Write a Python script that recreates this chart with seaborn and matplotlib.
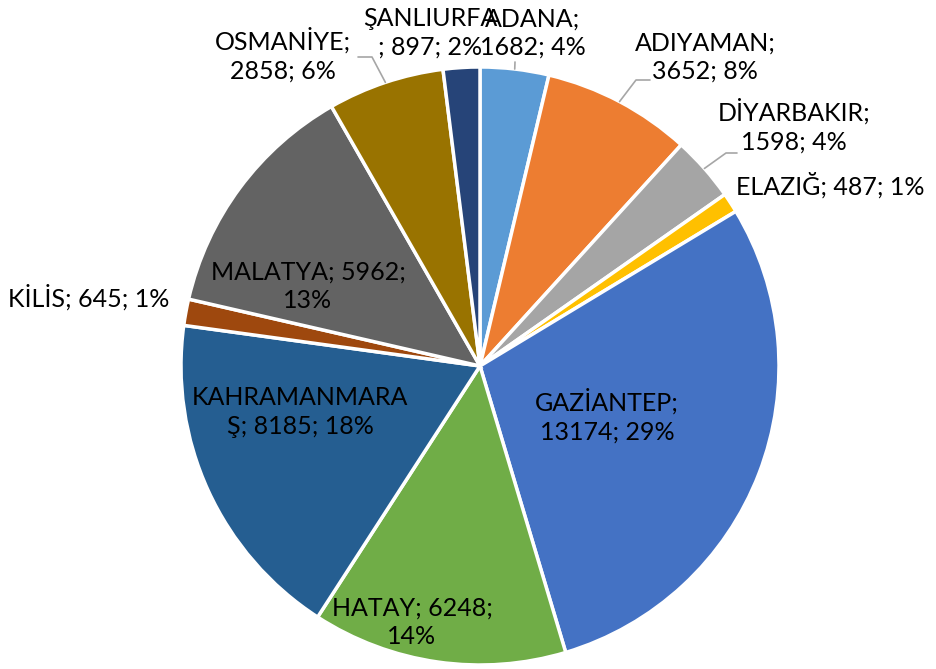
import matplotlib.pyplot as plt
import seaborn as sns
import numpy as np

# data, clockwise from the top
cities = ["ADANA", "ADIYAMAN", "DİYARBAKIR", "ELAZIĞ", "GAZİANTEP", "HATAY",
          "KAHRAMANMARAŞ", "KİLİS", "MALATYA", "OSMANİYE", "ŞANLIURFA"]
counts = [1682, 3652, 1598, 487, 13174, 6248, 8185, 645, 5962, 2858, 897]
colors = ["#5B9BD5", "#ED7D31", "#A5A5A5", "#FFC000", "#4472C4", "#70AD47",
          "#255E91", "#9E480E", "#636363", "#997300", "#264478"]

# how each label is broken into lines (as in the original chart)
templates = ["{n};\n{v}; {p}%", "{n};\n{v}; {p}%", "{n};\n{v}; {p}%", "{n}; {v}; {p}%",
             "{n};\n{v}; {p}%", "{n}; {v};\n{p}%", "KAHRAMANMARA\nŞ; {v}; {p}%",
             "{n}; {v}; {p}%", "{n}; {v};\n{p}%", "{n};\n{v}; {p}%", "{n}\n; {v}; {p}%"]

W, H = 936, 669
CX, CY, R = 480, 366, 299  # screen pixels

# label centres in screen pixels (y down)
label_pos = [(533, 33), (705, 57), (794, 126), (830, 185), (607, 416), (412, 622),
             (300, 412), (89, 297), (308, 286), (283, 55), (430, 33)]
# leader lines: elbow point and end point (screen pixels), None = no leader
leaders = [((515, 62), (515, 62)), ((636, 80), (650, 80)), ((726, 153), (737, 153)),
           None, None, None, None, None, None, ((372, 57), (358, 57)), None]

sns.set_theme(style="white")
plt.rcParams['font.family'] = ['Lato', 'DejaVu Sans']

fig = plt.figure(figsize=(W / 100, H / 100), dpi=100)
ax = fig.add_axes([0, 0, 1, 1])

wedges, _ = ax.pie(counts, colors=sns.color_palette(colors), startangle=90,
                   counterclock=False, center=(CX, H - CY), radius=R,
                   wedgeprops=dict(edgecolor="white", linewidth=2.5))
ax.set_xlim(0, W)
ax.set_ylim(0, H)
ax.set_aspect("equal")
ax.axis("off")

total = sum(counts)
for i, (name, v) in enumerate(zip(cities, counts)):
    pct = round(100 * v / total)
    text = templates[i].format(n=name, v=v, p=pct)
    x, y = label_pos[i]
    ax.text(x, H - y, text, ha="center", va="center", fontsize=18,
            color="black", linespacing=1.3)
    if leaders[i] is not None:
        w = wedges[i]
        mid = np.deg2rad((w.theta1 + w.theta2) / 2)
        ax_, ay_ = CX + R * np.cos(mid), H - CY + R * np.sin(mid)
        (ex, ey), (fx, fy) = leaders[i]
        ax.plot([ax_, ex, fx], [ay_, H - ey, H - fy], color="#A6A6A6", lw=1.2)

plt.savefig("out.png", dpi=100)
